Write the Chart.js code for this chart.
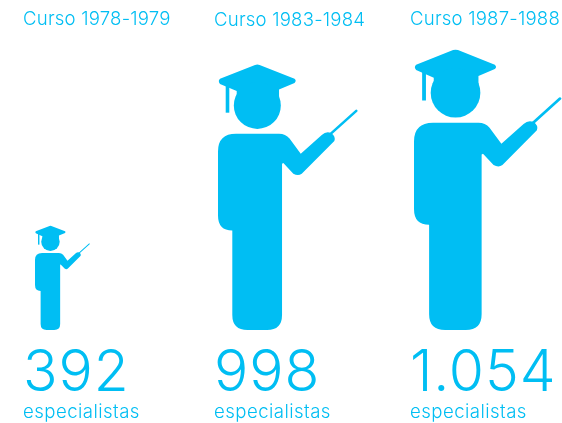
<!DOCTYPE html>
<html>
<head>
<meta charset="utf-8">
<style>html,body{margin:0;padding:0;background:#fff}#w{width:562px;height:423px}</style>
<script src="https://cdn.jsdelivr.net/npm/chart.js@4"></script>
</head>
<body>
<div id="w"><canvas id="c" width="562" height="423"></canvas></div>
<script>
const courses = ["Curso 1978-1979", "Curso 1983-1984", "Curso 1987-1988"];
const specialists = [392, 998, 1054];
const unitLabel = "especialistas";

const BLUE = "#00BEF3";
const FONT = '"Inter", "Lato", sans-serif';
const textNudge = [0, -2.5, 0];
const titleY = [25, 26, 25];
const iconNudge = [12, 1.5, 4];

function fmt(v) { return String(v).replace(/\B(?=(\d{3})+$)/g, "."); }

function drawIcon(ctx, left, bottom, s) {
  ctx.save();
  ctx.translate(left, bottom);
  ctx.scale(s, s);
  ctx.translate(-218, -329.5);
  ctx.fillStyle = BLUE;
  ctx.strokeStyle = BLUE;
  // cap
  ctx.beginPath();
  ctx.moveTo(255, 64.6);
  ctx.quadraticCurveTo(257.3, 63.8, 259.6, 64.6);
  ctx.lineTo(294.5, 78.5);
  ctx.quadraticCurveTo(296.8, 80.7, 294.5, 82.5);
  ctx.lineTo(279, 89);
  ctx.lineTo(279, 100);
  ctx.lineTo(236.7, 100);
  ctx.lineTo(236.7, 90.7);
  ctx.lineTo(220, 83.5);
  ctx.quadraticCurveTo(217.6, 80.7, 220, 78.5);
  ctx.closePath();
  ctx.fill();
  // tassel
  ctx.fillRect(225.7, 84, 3.6, 28.3);
  // head
  ctx.beginPath();
  ctx.arc(257.3, 105, 23.5, 0, Math.PI * 2);
  ctx.fill();
  // body and arm
  ctx.beginPath();
  ctx.moveTo(218, 151);
  ctx.quadraticCurveTo(218, 133.3, 236, 133.3);
  ctx.lineTo(279, 133.3);
  ctx.quadraticCurveTo(285.5, 133.3, 289.5, 138);
  ctx.lineTo(300.7, 153.3);
  ctx.lineTo(321.7, 134.5);
  ctx.quadraticCurveTo(326, 130.5, 331, 132.5);
  ctx.quadraticCurveTo(336, 136, 334.3, 140.5);
  ctx.lineTo(301.7, 173.3);
  ctx.quadraticCurveTo(298, 176, 293.3, 173.3);
  ctx.lineTo(283.3, 162.7);
  ctx.lineTo(282, 163.3);
  ctx.lineTo(282, 314.5);
  ctx.quadraticCurveTo(282, 329.5, 267, 329.5);
  ctx.lineTo(247.5, 329.5);
  ctx.quadraticCurveTo(232.3, 329.5, 232.3, 314.5);
  ctx.lineTo(232.3, 230);
  ctx.quadraticCurveTo(218, 230, 218, 215);
  ctx.closePath();
  ctx.fill();
  // pointer
  ctx.beginPath();
  ctx.lineWidth = 2.6;
  ctx.lineCap = "round";
  ctx.moveTo(330, 134);
  ctx.lineTo(356.2, 110.5);
  ctx.stroke();
  ctx.restore();
}

const pictogram = {
  id: "pictogram",
  afterDatasetsDraw(chart) {
    const ctx = chart.ctx;
    const bars = chart.getDatasetMeta(0).data;
    bars.forEach((bar, i) => {
      const h = bar.base - bar.y;
      drawIcon(ctx, bar.x + iconNudge[i], bar.base, h / 266);
      const tx = bar.x + textNudge[i];
      ctx.save();
      ctx.fillStyle = BLUE;
      ctx.textAlign = "left";
      ctx.textBaseline = "alphabetic";
      ctx.letterSpacing = "0.2px";
      ctx.font = "300 18.6px " + FONT;
      ctx.fillText(courses[i], tx, titleY[i]);
      ctx.letterSpacing = "0.9px";
      ctx.font = "300 57px " + FONT;
      ctx.fillText(fmt(specialists[i]), tx, 390.5);
      ctx.letterSpacing = "0.45px";
      ctx.font = "300 18.6px " + FONT;
      ctx.fillText(unitLabel, tx, 418);
      ctx.restore();
    });
  }
};

new Chart(document.getElementById("c"), {
  type: "bar",
  data: {
    labels: courses,
    datasets: [{ label: unitLabel, data: specialists, backgroundColor: "rgba(0,0,0,0)", barThickness: 1 }]
  },
  options: {
    responsive: false,
    animation: false,
    layout: { padding: { left: 23, right: 152, top: 10, bottom: 93 } },
    plugins: { legend: { display: false }, tooltip: { enabled: false } },
    scales: {
      x: { display: false, offset: false },
      y: { display: false, min: 0, max: 1200 }
    }
  },
  plugins: [pictogram]
});
</script>
</body>
</html>
